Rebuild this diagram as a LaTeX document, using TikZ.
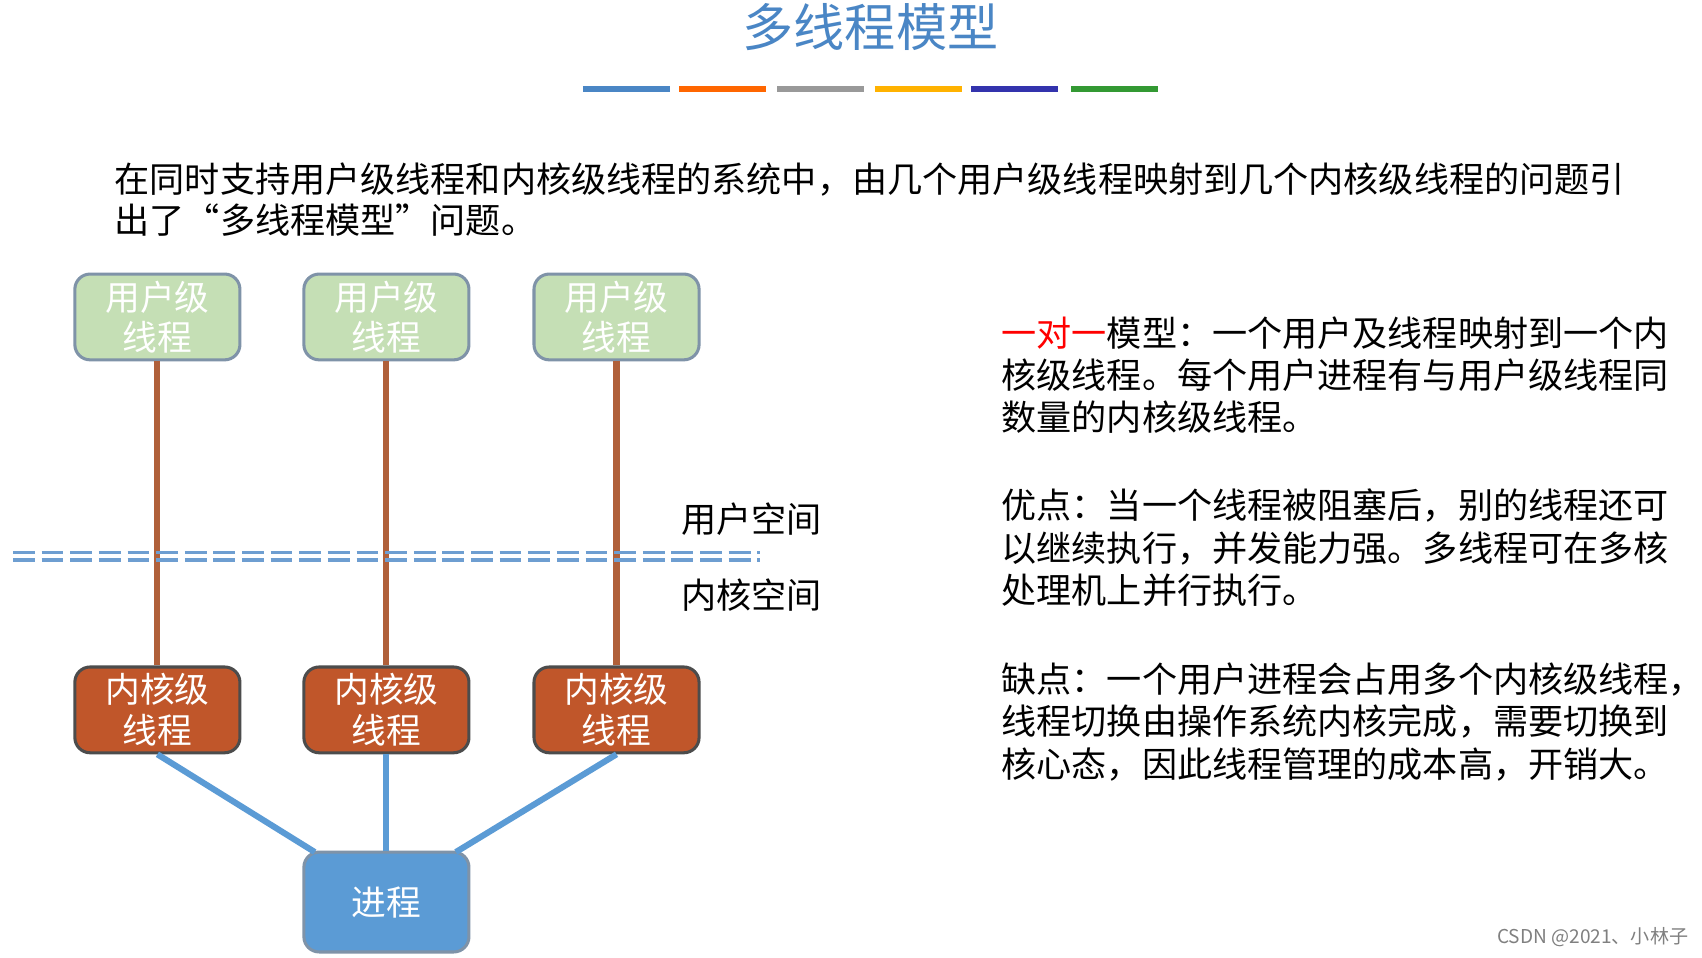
\documentclass[tikz,border=0pt]{standalone}
\usepackage{fontspec}
\setmainfont{Noto Sans CJK SC}
\begin{document}
\begin{tikzpicture}[x=0.01cm,y=-0.01cm,
  txt/.style={anchor=west,inner sep=0,font=\fontsize{9.2pt}{11pt}\selectfont},
  ubox/.style={draw=bordc,fill=ugreen,rounded corners=4pt,minimum width=1.52cm,minimum height=0.79cm,text=white,align=center,font=\fontsize{9.1pt}{10.6pt}\selectfont,line width=0.8pt,inner sep=0},
  kbox/.style={ubox,fill=korange,draw=gray!60!black},
  conn/.style={line width=1.6pt,draw=kbrown},
  pconn/.style={line width=1.6pt,draw=pblue}]
\definecolor{ugreen}{HTML}{C5DFB5}
\definecolor{bordc}{HTML}{7F93A8}
\definecolor{korange}{HTML}{C0562A}
\definecolor{kbrown}{HTML}{B0603A}
\definecolor{pblue}{HTML}{5B9BD5}
\definecolor{tblue}{HTML}{4A86C5}
\useasboundingbox[fill=white] (0,0) rectangle (1568,882);
\node[font=\fontsize{13.4pt}{15pt}\selectfont,text=tblue] (title) at (802,25) {多线程模型};
\foreach \a/\c in {537/tblue,626/orange!80!red,716/gray!80,806/orange!60!yellow,895/blue!60!black!80,987/green!50!black!80}
  \draw[line width=1.7pt,\c] (\a,82) -- (\a+80,82);
\node[txt] (p1) at (105,165) {在同时支持用户级线程和内核级线程的系统中，由几个用户级线程映射到几个内核级线程的问题引};
\node[txt] (p2) at (105,203) {出了“多线程模型”问题。};
\foreach \i/\x in {1/145,2/356,3/568}{
  \node[ubox] (u\i) at (\x,292) {用户级\\线程};
  \node[kbox] (k\i) at (\x,654) {内核级\\线程};
  \draw[conn] (u\i) -- (k\i);
}
\draw[tblue!80,dash pattern=on 5.7pt off 1.8pt,line width=1pt] (12,509) -- (700,509) (12,516) -- (700,516);
\node[txt] (us) at (627,478) {用户空间};
\node[txt] (ks) at (627,548) {内核空间};
\node[ubox,fill=pblue,draw=bordc,minimum height=0.92cm] (p) at (356,831) {进程};
\draw[pconn] (k1.south) -- (290,785);
\draw[pconn] (k2.south) -- (p.north);
\draw[pconn] (k3.south) -- (420,785);
\node[txt] (r1) at (922,307) {\textcolor{red}{一对一}模型：一个用户及线程映射到一个内};
\node[txt] (r2) at (922,346) {核级线程。每个用户进程有与用户级线程同};
\node[txt] (r3) at (922,384) {数量的内核级线程。};
\node[txt] (r4) at (922,466) {优点：当一个线程被阻塞后，别的线程还可};
\node[txt] (r5) at (922,505) {以继续执行，并发能力强。多线程可在多核};
\node[txt] (r6) at (922,544) {处理机上并行执行。};
\node[txt] (r7) at (922,626) {缺点：一个用户进程会占用多个内核级线程，};
\node[txt] (r8) at (922,665) {线程切换由操作系统内核完成，需要切换到};
\node[txt] (r9) at (922,704) {核心态，因此线程管理的成本高，开销大。};
\node[anchor=east,inner sep=0,text=gray,font=\fontsize{5pt}{6pt}\selectfont] (cs) at (1556,863) {CSDN @2021、小林子};
\end{tikzpicture}
\end{document}
